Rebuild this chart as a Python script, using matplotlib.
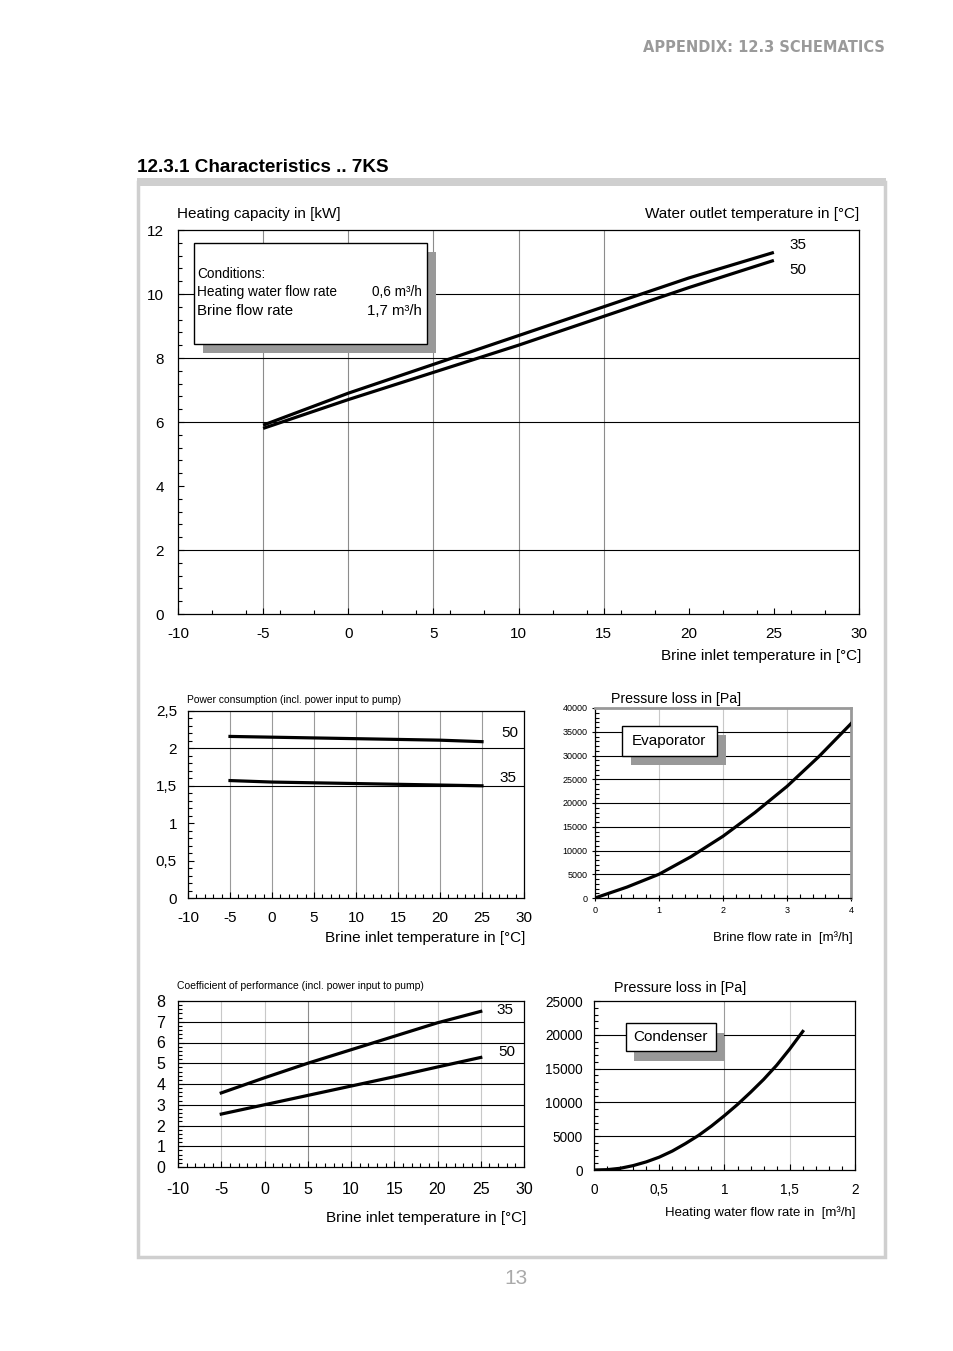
import numpy as np
import matplotlib
matplotlib.use("Agg")
import matplotlib.pyplot as plt
from matplotlib.patches import Rectangle
from matplotlib.ticker import MultipleLocator, FuncFormatter

plt.rcParams['font.family'] = ['Liberation Sans', 'DejaVu Sans']
plt.rcParams['axes.unicode_minus'] = False

W, H = 954, 1351

# ---- data ----
temps = [-5, 0, 5, 10, 15, 20, 25]

cap_35 = [5.9, 6.9, 7.8, 8.7, 9.6, 10.5, 11.3]
cap_50 = [5.8, 6.7, 7.55, 8.4, 9.3, 10.2, 11.05]

pow_50 = [2.16, 2.15, 2.14, 2.13, 2.12, 2.11, 2.09]
pow_35 = [1.57, 1.55, 1.54, 1.53, 1.52, 1.51, 1.50]

cop_35 = [3.57, 4.3, 5.0, 5.65, 6.3, 6.95, 7.5]
cop_50 = [2.55, 3.0, 3.45, 3.9, 4.35, 4.82, 5.28]

evap_flow = [0, 0.5, 1, 1.5, 2, 2.5, 3, 3.5, 4]
evap_dp = [0, 2300, 5000, 8700, 13000, 18000, 23500, 29800, 36700]

cond_flow = [0, 0.1, 0.2, 0.3, 0.4, 0.5, 0.6, 0.7, 0.8, 0.9, 1.0, 1.1, 1.2, 1.3, 1.4, 1.5, 1.6]
cond_dp = [0, 50, 250, 650, 1200, 1900, 2800, 3900, 5100, 6500, 8050, 9700, 11500, 13400, 15500, 17900, 20500]


def fx(x):
    return x / W


def fy(y):
    return 1 - y / H


def make_ax(fig, x0, y0, x1, y1):
    # pixel box -> axes
    return fig.add_axes([fx(x0), fy(y1), (x1 - x0) / W, (y1 - y0) / H])


def comma(v, pos):
    s = f"{v:g}"
    return s.replace('.', ',')


def box(fig, x0, y0, x1, y1, dx, dy, lw=1.0):
    fig.add_artist(Rectangle((fx(x0 + dx), fy(y1 + dy)), (x1 - x0) / W, (y1 - y0) / H,
                             transform=fig.transFigure, facecolor='#999999', edgecolor='none', zorder=5))
    fig.add_artist(Rectangle((fx(x0), fy(y1)), (x1 - x0) / W, (y1 - y0) / H,
                             transform=fig.transFigure, facecolor='white', edgecolor='black', lw=lw, zorder=6))


def style(ax, lw=0.9):
    for s in ax.spines.values():
        s.set_linewidth(lw)
        s.set_color('black')
    ax.tick_params(which='both', direction='in', color='black', width=0.8)
    ax.tick_params(which='major', length=4)
    ax.tick_params(which='minor', length=3)


fig = plt.figure(figsize=(W / 100, H / 100), dpi=100)

# page decoration
fig.text(fx(885), fy(47), "APPENDIX: 12.3 SCHEMATICS", ha='right', va='center',
         fontsize=10.5, fontweight='bold', color='#9a9a9a', family='DejaVu Sans')
fig.text(fx(137), fy(167), "12.3.1 Characteristics .. 7KS", ha='left', va='center',
         fontsize=13.6, fontweight='bold')
fig.add_artist(Rectangle((fx(138), fy(1257)), (885 - 138) / W, (1257 - 182) / H,
                         transform=fig.transFigure, facecolor='none', edgecolor='#cfcfcf', lw=2.5))
fig.add_artist(Rectangle((fx(137), fy(186)), (886 - 137) / W, 8 / H,
                         transform=fig.transFigure, facecolor='#cfcfcf', edgecolor='none'))
fig.text(fx(516), fy(1278), "13", ha='center', va='center', fontsize=15, color='#aaaaaa')

# ---- heating capacity ----
ax = make_ax(fig, 178, 230, 859, 614)
style(ax)
ax.set_xlim(-10, 30)
ax.set_ylim(0, 12)
ax.xaxis.set_major_locator(MultipleLocator(5))
ax.xaxis.set_minor_locator(MultipleLocator(2))
ax.yaxis.set_major_locator(MultipleLocator(2))
ax.yaxis.set_minor_locator(MultipleLocator(0.4))
ax.tick_params(axis='x', labelsize=11, pad=9)
ax.tick_params(axis='y', labelsize=11, pad=10)
for xv in [-5, 0, 5, 10, 15]:
    ax.axvline(xv, color='#8c8c8c', lw=0.8, zorder=1)
for yv in [2, 6, 8, 10]:
    ax.axhline(yv, color='black', lw=0.8, zorder=1)
ax.plot(temps, cap_35, color='black', lw=2.3, solid_capstyle='butt', zorder=3)
ax.plot(temps, cap_50, color='black', lw=2.3, solid_capstyle='butt', zorder=3)
ax.text(25.9, 11.53, "35", fontsize=11, va='center')
ax.text(25.9, 10.75, "50", fontsize=11, va='center')
fig.text(fx(177), fy(214), "Heating capacity in [kW]", fontsize=11, va='center')
fig.text(fx(859), fy(214), "Water outlet temperature in [°C]", fontsize=11, va='center', ha='right')
fig.text(fx(861), fy(656), "Brine inlet temperature in [°C]", fontsize=11, va='center', ha='right')

box(fig, 194, 243, 427, 344, 9, 9)
fig.text(fx(197), fy(274), "Conditions:", fontsize=9.8, va='center', zorder=7)
fig.text(fx(197), fy(292), "Heating water flow rate", fontsize=9.8, va='center', zorder=7)
fig.text(fx(422), fy(292), "0,6 m³/h", fontsize=9.8, va='center', ha='right', zorder=7)
fig.text(fx(197), fy(311), "Brine flow rate", fontsize=10.8, va='center', zorder=7)
fig.text(fx(422), fy(311), "1,7 m³/h", fontsize=10.8, va='center', ha='right', zorder=7)

# ---- power consumption ----
ax = make_ax(fig, 188, 711, 524, 898)
style(ax)
ax.set_xlim(-10, 30)
ax.set_ylim(0, 2.5)
ax.xaxis.set_major_locator(MultipleLocator(5))
ax.xaxis.set_minor_locator(MultipleLocator(1))
ax.yaxis.set_major_locator(MultipleLocator(0.5))
ax.yaxis.set_minor_locator(MultipleLocator(0.1))
ax.yaxis.set_major_formatter(FuncFormatter(comma))
ax.tick_params(axis='x', labelsize=11, pad=9)
ax.tick_params(axis='y', labelsize=11, pad=8)
for xv in temps:
    ax.axvline(xv, color='#9a9a9a', lw=0.8, zorder=1)
for yv in [1.5, 2.0]:
    ax.axhline(yv, color='black', lw=0.8, zorder=1)
ax.plot(temps, pow_50, color='black', lw=2.3, zorder=3)
ax.plot(temps, pow_35, color='black', lw=2.3, zorder=3)
ax.text(28.3, 2.21, "50", fontsize=11, va='center', ha='center')
ax.text(28.1, 1.60, "35", fontsize=11, va='center', ha='center')
fig.text(fx(187), fy(700), "Power consumption (incl. power input to pump)", fontsize=7.4, va='center')
fig.text(fx(525), fy(938), "Brine inlet temperature in [°C]", fontsize=11, va='center', ha='right')

# ---- evaporator pressure loss ----
ax = make_ax(fig, 595, 708, 851, 898)
style(ax)
ax.spines['top'].set_color('#999999')
ax.spines['right'].set_color('#999999')
ax.spines['top'].set_linewidth(2)
ax.spines['right'].set_linewidth(2)
ax.set_xlim(0, 4)
ax.set_ylim(0, 40000)
ax.xaxis.set_major_locator(MultipleLocator(1))
ax.xaxis.set_minor_locator(MultipleLocator(0.2))
ax.yaxis.set_major_locator(MultipleLocator(5000))
ax.yaxis.set_minor_locator(MultipleLocator(1000))
ax.tick_params(which='major', direction='inout', length=5)
ax.tick_params(axis='both', labelsize=6.5, pad=3)
for xv in [1, 2, 3]:
    ax.axvline(xv, color='#c8c8c8', lw=0.8, zorder=1)
for yv in range(5000, 40000, 5000):
    ax.axhline(yv, color='black', lw=0.8, zorder=1)
ax.plot(evap_flow, evap_dp, color='black', lw=2.3, zorder=3)
box(fig, 622, 726, 717, 756, 9, 9)
fig.text(fx(669), fy(741), "Evaporator", fontsize=11, va='center', ha='center', zorder=7)
fig.text(fx(611), fy(699), "Pressure loss in [Pa]", fontsize=10.2, va='center')
fig.text(fx(853), fy(938), "Brine flow rate in  [m³/h]", fontsize=9.5, va='center', ha='right')

# ---- COP ----
ax = make_ax(fig, 178, 1001, 524, 1167)
style(ax)
ax.set_xlim(-10, 30)
ax.set_ylim(0, 8)
ax.xaxis.set_major_locator(MultipleLocator(5))
ax.xaxis.set_minor_locator(MultipleLocator(1))
ax.yaxis.set_major_locator(MultipleLocator(1))
ax.yaxis.set_minor_locator(MultipleLocator(0.2))
ax.tick_params(axis='x', labelsize=11.5, pad=11)
ax.tick_params(axis='y', labelsize=11.5, pad=9)
for xv in temps:
    ax.axvline(xv, color='#8c8c8c' if xv == 5 else '#c8c8c8', lw=0.8, zorder=1)
for yv in range(1, 8):
    ax.axhline(yv, color='black', lw=0.8, zorder=1)
ax.plot(temps, cop_35, color='black', lw=2.3, zorder=3)
ax.plot(temps, cop_50, color='black', lw=2.3, zorder=3)
ax.text(27.8, 7.57, "35", fontsize=11, va='center', ha='center')
ax.text(28.0, 5.54, "50", fontsize=11, va='center', ha='center')
fig.text(fx(177), fy(986), "Coefficient of performance (incl. power input to pump)", fontsize=7.5, va='center')
fig.text(fx(526), fy(1218), "Brine inlet temperature in [°C]", fontsize=11, va='center', ha='right')

# ---- condenser pressure loss ----
ax = make_ax(fig, 594, 1001, 855, 1170)
style(ax)
ax.set_xlim(0, 2)
ax.set_ylim(0, 25000)
ax.xaxis.set_major_locator(MultipleLocator(0.5))
ax.xaxis.set_minor_locator(MultipleLocator(0.1))
ax.yaxis.set_major_locator(MultipleLocator(5000))
ax.yaxis.set_minor_locator(MultipleLocator(1000))
ax.xaxis.set_major_formatter(FuncFormatter(comma))
ax.tick_params(axis='both', labelsize=9.8)
ax.tick_params(axis='x', pad=9)
ax.tick_params(axis='y', pad=8)
ax.axvline(1.0, color='#9a9a9a', lw=0.8, zorder=1)
ax.axvline(1.5, color='#cfcfcf', lw=0.8, zorder=1)
for yv in range(5000, 25000, 5000):
    ax.axhline(yv, color='black', lw=0.8, zorder=1)
ax.plot(cond_flow, cond_dp, color='black', lw=2.3, zorder=3)
box(fig, 626, 1023, 716, 1051, 8, 10)
fig.text(fx(670), fy(1037), "Condenser", fontsize=11, va='center', ha='center', zorder=7)
fig.text(fx(614), fy(988), "Pressure loss in [Pa]", fontsize=10.4, va='center')
fig.text(fx(856), fy(1213), "Heating water flow rate in  [m³/h]", fontsize=9.5, va='center', ha='right')

fig.savefig("out.png", dpi=100)
